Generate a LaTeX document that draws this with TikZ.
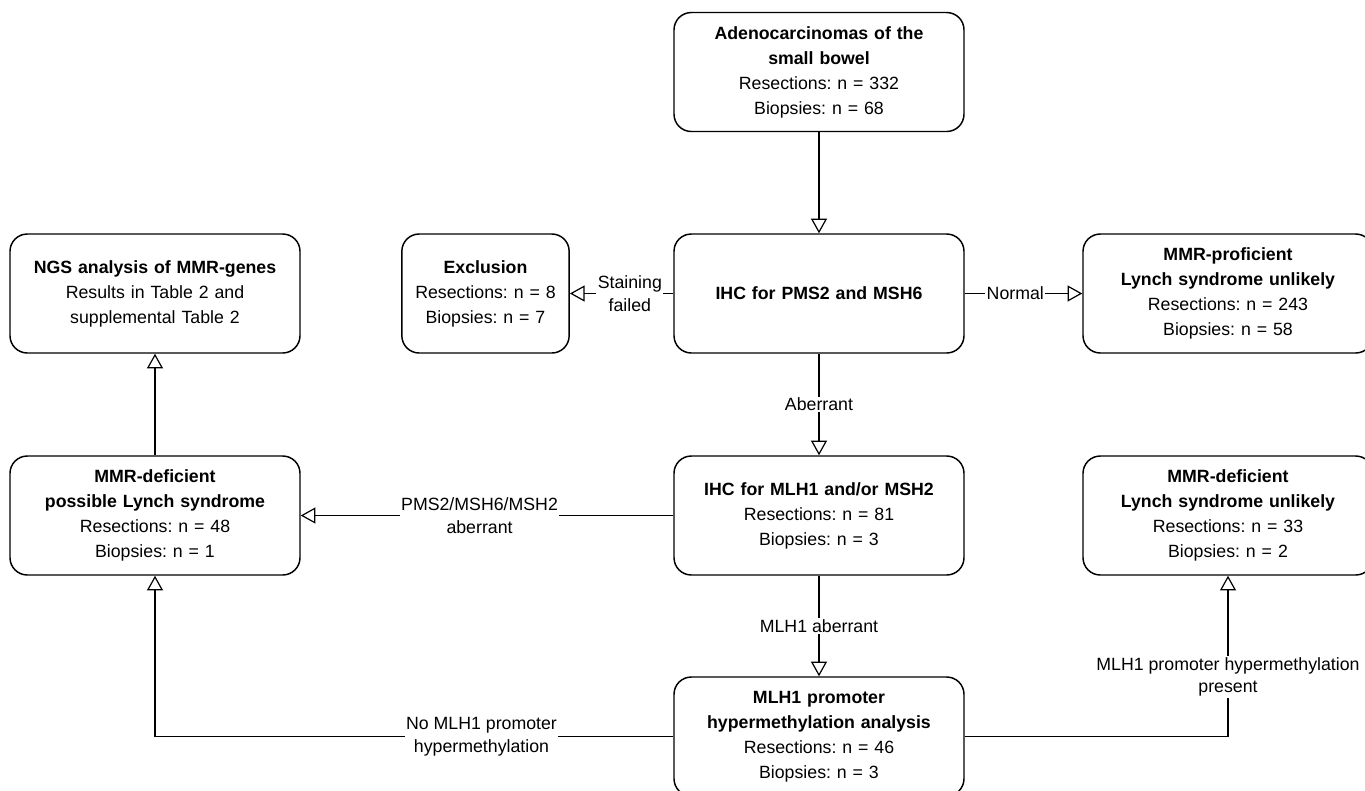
\documentclass[tikz,border=0pt]{standalone}
\usepackage{fontspec}
\setmainfont{Liberation Sans}
\frenchspacing
\usetikzlibrary{arrows.meta}
\newcommand{\cajafont}{\fontsize{13.3}{18.75}\selectfont}
\newcommand{\rotulofont}{\fontsize{13.3}{17}\selectfont}
\tikzstyle{caja}=[draw, line width=1.1pt, text width=205pt, inner sep=6.25pt,
  text centered, minimum height=89.25pt, rounded corners=13pt, font=\cajafont]
\tikzstyle{cajachica} = [caja, text width=113pt]
\tikzstyle{rotulo} = [fill=white, inner sep=1pt, align=center, font=\rotulofont]
\tikzstyle{flecha} = [draw, line width=0.9pt, -{Triangle[open, length=11pt, width=12pt]}]
\tikzstyle{tramo} = [draw, line width=0.9pt]

\begin{document}
\begin{tikzpicture}[x=0.75pt, y=-0.75pt]
  \useasboundingbox (0,0) rectangle (1365,790);

  % Draw diagram elements
  \path (819,72) node (adeno) [caja] {\textbf{Adenocarcinomas of the}\\
    \textbf{small bowel}\\ Resections: n = 332\\ Biopsies: n = 68};

  \path (adeno)+(0,221.5) node (pms) [caja] {\textbf{IHC for PMS2 and MSH6}};
  \path (pms)+(-333.5,0) node (excl) [cajachica] {\textbf{Exclusion}\\
    Resections: n = 8\\ Biopsies: n = 7};
  \path (pms)+(-664,0) node (ngs) [caja] {\textbf{NGS analysis of MMR-genes}\\
    Results in Table 2 and\\ supplemental Table 2};
  \path (pms)+(409,0) node (prof) [caja] {\textbf{MMR-proficient}\\
    \textbf{Lynch syndrome unlikely}\\ Resections: n = 243\\ Biopsies: n = 58};

  \path (pms)+(0,222) node (mlh) [caja] {\textbf{IHC for MLH1 and/or MSH2}\\
    Resections: n = 81\\ Biopsies: n = 3};
  \path (mlh)+(-664,0) node (defpos) [caja] {\textbf{MMR-deficient}\\
    \textbf{possible Lynch syndrome}\\ Resections: n = 48\\ Biopsies: n = 1};
  \path (mlh)+(409,0) node (defunl) [caja] {\textbf{MMR-deficient}\\
    \textbf{Lynch syndrome unlikely}\\ Resections: n = 33\\ Biopsies: n = 2};

  \path (mlh)+(0,221) node (meth) [caja] {\textbf{MLH1 promoter}\\
    \textbf{hypermethylation analysis}\\ Resections: n = 46\\ Biopsies: n = 3};

  % Draw arrows between elements
  \path [flecha] (adeno.south) -- (pms.north);

  \path [flecha] (pms.west) -- node [rotulo, pos=0.42] {Staining\\failed} (excl.east);
  \path [flecha] (pms.east) -- node [rotulo, pos=0.43] {Normal} (prof.west);
  \path [flecha] (pms.south) -- node [rotulo] {Aberrant} (mlh.north);

  \path [flecha] (mlh.west) -- node [rotulo, pos=0.52]
    {PMS2/MSH6/MSH2\\aberrant} (defpos.east);
  \path [flecha] (mlh.south) -- node [rotulo] {MLH1 aberrant} (meth.north);

  \path [tramo] (meth.west) -- node [rotulo, pos=0.37]
    {No MLH1 promoter\\hypermethylation} (defpos.south |- meth.west);
  \path [flecha] (defpos.south |- meth.west) -- (defpos.south);
  \path [tramo] (meth.east) -- (defunl.south |- meth.east);
  \path [flecha] (defunl.south |- meth.east) -- node [rotulo, pos=0.37]
    {MLH1 promoter hypermethylation\\present} (defunl.south);

  \path [flecha] (defpos.north) -- (ngs.south);
\end{tikzpicture}
\end{document}
